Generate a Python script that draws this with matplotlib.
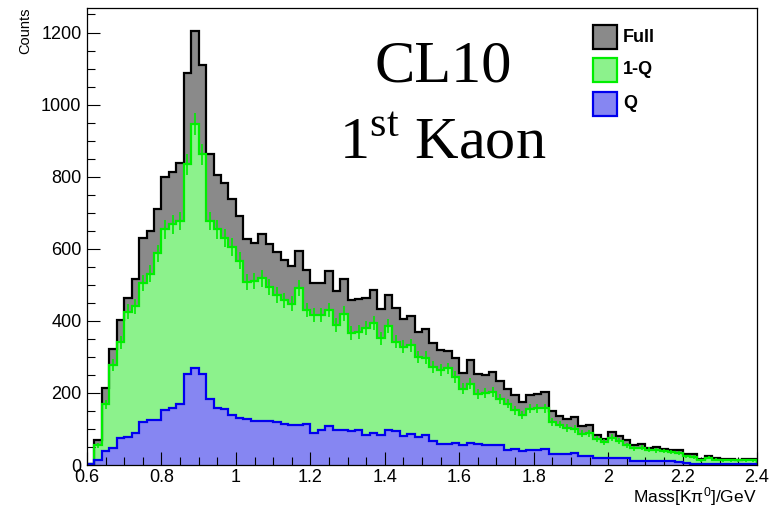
import numpy as np
import matplotlib
matplotlib.use("Agg")
import matplotlib.pyplot as plt
from matplotlib.patches import Rectangle

plt.rcParams['font.family'] = ['Liberation Sans', 'DejaVu Sans']
plt.rcParams['mathtext.fontset'] = 'custom'
plt.rcParams['mathtext.rm'] = 'Liberation Sans'
plt.rcParams['mathtext.it'] = 'Liberation Sans:italic'

# ---- data (bin width 0.02 GeV, 0.6 - 2.4) ----
x_min, x_max, bin_w = 0.6, 2.4, 0.02

full = [3, 70, 215, 322, 401, 463, 516, 631, 648, 710,
        800, 814, 837, 1088, 1205, 1111, 862, 805, 783, 737,
        691, 627, 617, 641, 612, 592, 570, 552, 593, 541,
        504, 504, 538, 482, 517, 457, 461, 464, 485, 432,
        473, 436, 404, 413, 368, 377, 339, 319, 317, 298,
        254, 291, 252, 249, 257, 232, 211, 194, 175, 194,
        196, 203, 150, 136, 129, 132, 107, 110, 82, 73,
        92, 80, 69, 55, 57, 48, 50, 45, 43, 43,
        31, 30, 18, 26, 19, 16, 16, 15, 16, 16]

one_minus_q = [2, 55, 168, 277, 340, 425, 440, 505, 531, 587,
               654, 668, 677, 834, 945, 862, 677, 654, 631, 604,
               567, 507, 510, 518, 493, 471, 457, 448, 490, 430,
               416, 416, 430, 388, 420, 367, 369, 379, 394, 351,
               385, 342, 328, 332, 299, 298, 272, 263, 268, 244,
               212, 226, 198, 200, 203, 184, 170, 152, 138, 156,
               158, 158, 120, 112, 103, 100, 87, 88, 73, 64,
               76, 67, 55, 46, 48, 43, 41, 39, 36, 34,
               24, 22, 13, 20, 15, 13, 13, 13, 13, 13]

q = [3, 13, 40, 48, 74, 78, 88, 120, 124, 124,
     152, 158, 170, 253, 269, 252, 182, 158, 154, 138,
     131, 127, 122, 122, 122, 119, 115, 110, 110, 113,
     90, 96, 108, 98, 98, 94, 96, 82, 90, 83,
     96, 94, 81, 85, 78, 84, 67, 59, 57, 62,
     55, 61, 57, 55, 55, 55, 41, 44, 38, 41,
     41, 45, 31, 31, 30, 32, 25, 26, 19, 19,
     19, 19, 19, 11, 10, 10, 10, 10, 10, 7,
     6, 4, 3, 3, 3, 3, 3, 3, 3, 3]

labels = ["Full", "1-Q", "Q"]
x_tick_labels = ["0.6", "0.8", "1", "1.2", "1.4", "1.6", "1.8", "2", "2.2", "2.4"]

n_bins = len(full)
edges = np.linspace(x_min, x_min + n_bins * bin_w, n_bins + 1)
centers = 0.5 * (edges[:-1] + edges[1:])

W, H = 777, 509
fig = plt.figure(figsize=(W / 100, H / 100), dpi=100)
ax = fig.add_axes([87 / W, 1 - 465 / H, (757 - 87) / W, (465 - 8) / H])

styles = [
    dict(face="#8a8a8a", edge="black"),
    dict(face="#8cf28c", edge="#00ee00"),
    dict(face="#8686f2", edge="#0000ee"),
]

for vals, st in zip([full, one_minus_q, q], styles):
    ax.stairs(vals, edges, fill=True, color=st["face"], zorder=1, linewidth=0)
    ax.stairs(vals, edges, fill=False, color=st["edge"], linewidth=1.6,
              baseline=0, zorder=3)
    if st is styles[1]:
        err = np.sqrt(np.asarray(vals, dtype=float))
        ax.errorbar(centers, vals, yerr=err, fmt='none', ecolor=st["edge"],
                    elinewidth=1.2, capsize=0, zorder=3)

ax.set_xlim(x_min, x_max)
ax.set_ylim(0, 1268)

ax.set_xticks(np.arange(0.6, 2.41, 0.2))
ax.set_xticklabels(x_tick_labels)
ax.set_xticks(np.arange(0.6, 2.401, 0.05), minor=True)
ax.set_yticks(np.arange(0, 1201, 200))
ax.set_yticks(np.arange(0, 1251, 50), minor=True)

ax.tick_params(which='both', direction='in', top=False, right=False,
               labelsize=13, width=0.8, colors='black')
ax.tick_params(which='major', length=9.5, pad=4)
ax.tick_params(axis='x', which='major', pad=3)
ax.tick_params(which='minor', length=5.5)
for sp in ax.spines.values():
    sp.set_linewidth(0.9)
    sp.set_zorder(5)

fig.text(25 / W, 1 - 7 / H, "Counts", rotation=90, ha='center', va='top', fontsize=10.5)
fig.text(757 / W, 1 - 502 / H, r"Mass[K$\mathregular{\pi^{0}}$]/GeV", ha='right', va='baseline',
         fontsize=12.5)

serif = ['Liberation Serif', 'DejaVu Serif']
fig.text(443 / W, 1 - 82 / H, "CL10", ha='center', va='baseline', fontsize=43.5, family=serif)
fig.text(443 / W, 1 - 158 / H, r"1$^{\mathregular{st}}$ Kaon", ha='center', va='baseline',
         fontsize=43.5, family=serif)

# legend
rows_y = [37, 70, 104]
for lab, st, cy in zip(labels, styles, rows_y):
    fig.patches.append(Rectangle((593 / W, 1 - (cy + 12) / H), 24 / W, 24 / H,
                                 transform=fig.transFigure, facecolor=st["face"],
                                 edgecolor=st["edge"], linewidth=1.6))
    fig.text(623 / W, 1 - cy / H, lab, ha='left', va='center', fontsize=13,
             fontweight='bold')

fig.savefig("out.png", dpi=100)
